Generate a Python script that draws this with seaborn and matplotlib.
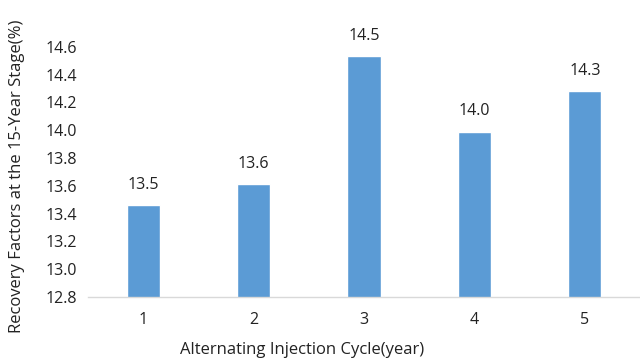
import matplotlib
matplotlib.use("Agg")
import matplotlib.pyplot as plt
import seaborn as sns
import pandas as pd

cycles = ["1", "2", "3", "4", "5"]
recovery = [13.46, 13.61, 14.53, 13.99, 14.28]
yticks = [12.8, 13.0, 13.2, 13.4, 13.6, 13.8, 14.0, 14.2, 14.4, 14.6]

sns.set_theme(style="white")
plt.rcParams['font.family'] = ['Open Sans', 'DejaVu Sans']

df = pd.DataFrame({"cycle": cycles, "rf": recovery})

L, R, T, B = 88, 640, 46.7, 297
fig = plt.figure(figsize=(6.4, 3.6), dpi=100)
ax = fig.add_axes([L/640, 1-B/360, (R-L)/640, (B-T)/360])
sns.barplot(data=df, x="cycle", y="rf", color="#5B9BD5", width=0.3,
            saturation=1, ax=ax)
ax.set_ylim(12.8, 14.6)
ax.set_xlim(-0.5, 4.5)
ax.set_yticks(yticks)
ax.set_yticklabels([f"{t:.1f}" for t in yticks])
ax.tick_params(axis="both", length=0, labelsize=11.5, colors="#222222")
ax.tick_params(axis="y", pad=8)
ax.tick_params(axis="x", pad=11)
for s in ["top", "right", "left"]:
    ax.spines[s].set_visible(False)
ax.spines["bottom"].set_color("#d9d9d9")
ax.spines["bottom"].set_linewidth(1)
ax.set_xlabel("Alternating Injection Cycle(year)", fontsize=12, color="#222222")
ax.set_ylabel("Recovery Factors at the 15-Year Stage(%)", fontsize=12, color="#222222")
ax.xaxis.label.set_va("center")
ax.xaxis.set_label_coords((302.5-L)/(R-L), -(350-B)/(B-T))
ax.yaxis.label.set_va("center")
ax.yaxis.set_label_coords((17-L)/(R-L), 0.5 - 4/(B-T))

for i, v in enumerate(recovery):
    ax.annotate(f"{v:.1f}", (i, v), xytext=(0, 14.5), textcoords="offset points",
                ha="center", va="center", fontsize=11.5, color="#222222",
                annotation_clip=False)

fig.savefig("out.png", dpi=100)
